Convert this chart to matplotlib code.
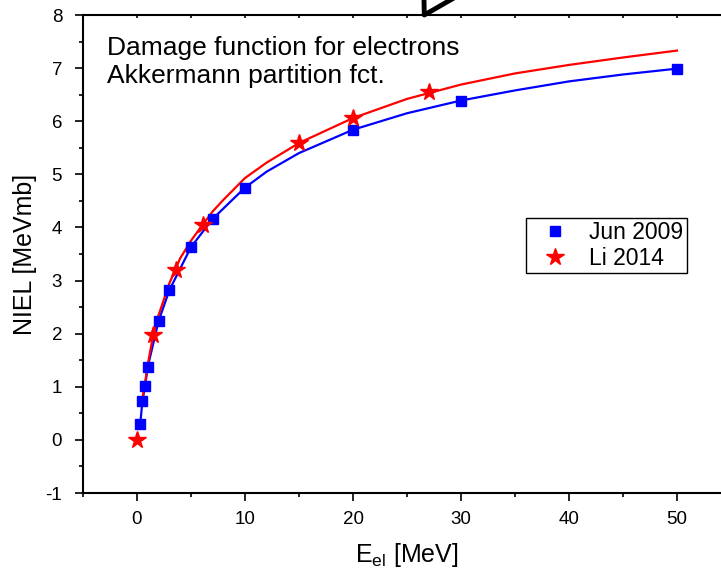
import matplotlib.pyplot as plt
from matplotlib.ticker import MultipleLocator

plt.rcParams['font.family'] = ['Liberation Sans', 'DejaVu Sans']
plt.rcParams['axes.unicode_minus'] = False

# Jun 2009 data points (blue squares)
jun_x = [0.3, 0.5, 0.75, 1, 2, 3, 5, 7, 10, 20, 30, 50]
jun_y = [0.30, 0.73, 1.02, 1.38, 2.24, 2.82, 3.63, 4.16, 4.75, 5.84, 6.39, 6.99]

# Li 2014 data points (red stars)
li_x = [0, 1.5, 3.6, 6.1, 15, 20, 27]
li_y = [0.0, 1.98, 3.2, 4.05, 5.59, 6.06, 6.55]

# blue curve
blue_x = [0.3, 0.5, 0.75, 1, 2, 3, 5, 7, 10, 12, 15, 20, 25, 30, 35, 40, 45, 50]
blue_y = [0.30, 0.73, 1.02, 1.38, 2.24, 2.82, 3.63, 4.16, 4.75, 5.05, 5.40, 5.84, 6.15,
          6.39, 6.58, 6.75, 6.88, 6.99]

# red curve
red_x = [0.45, 0.75, 1, 1.5, 2, 3, 4, 5, 6, 7, 8, 10, 12, 15, 20, 25, 30, 35, 40, 45, 50]
red_y = [0.72, 1.08, 1.42, 1.98, 2.35, 2.95, 3.42, 3.75, 4.03, 4.30, 4.52, 4.93, 5.22,
         5.59, 6.06, 6.42, 6.69, 6.90, 7.06, 7.20, 7.33]

fig = plt.figure(figsize=(7.21, 5.76), dpi=100)
ax = fig.add_axes([83/721, 83/576, 648/721, 478/576])

ax.plot(blue_x, blue_y, color='#0000ff', lw=1.6, zorder=2)
ax.plot(red_x, red_y, color='#ff0000', lw=1.6, zorder=3)
ax.plot(jun_x, jun_y, 's', color='#0000ff', ms=7, ls='none', label='Jun 2009', zorder=4)
ax.plot(li_x, li_y, '*', color='#ff0000', ms=13, ls='none', label='Li 2014', zorder=5)

ax.set_xlim(-5, 55)
ax.set_ylim(-1, 8)
ax.xaxis.set_major_locator(MultipleLocator(10))
ax.xaxis.set_minor_locator(MultipleLocator(5))
ax.yaxis.set_major_locator(MultipleLocator(1))
ax.yaxis.set_minor_locator(MultipleLocator(0.5))

ax.tick_params(axis='both', which='major', direction='out', length=6, width=1.2,
               labelsize=13.5)
ax.tick_params(axis='x', which='major', pad=7)
ax.tick_params(axis='y', which='major', pad=9)
ax.tick_params(axis='both', which='minor', direction='out', length=3, width=1.2)
ax.tick_params(axis='x', which='both', top=True)
for t in ax.xaxis.get_major_ticks() + ax.xaxis.get_minor_ticks():
    t.tick2line.set_marker(3)
    t.tick2line.set_markersize(2)
for s in ax.spines.values():
    s.set_linewidth(1.5)

ax.set_xlabel('E$_{\\mathregular{el}}$ [MeV]', fontsize=18, labelpad=9)
ax.set_ylabel('NIEL [MeVmb]', fontsize=18, labelpad=6)

ax.text(-2.8, 7.6, 'Damage function for electrons\nAkkermann partition fct.',
        fontsize=19, va='top', ha='left', linespacing=1.2)

ax.legend(loc='upper left', bbox_to_anchor=(0.6836, 0.5753), fontsize=16.5,
          frameon=True, fancybox=False, edgecolor='black', framealpha=1,
          borderpad=0.15, handletextpad=0.4, labelspacing=0.1, handlelength=2.2,
          borderaxespad=0)

ax.annotate('', xy=(26.6, 8.0), xytext=(30.5, 9.4), annotation_clip=False,
            arrowprops=dict(arrowstyle='simple,head_width=1.3,head_length=1.1,tail_width=0.45',
                            mutation_scale=22, fc='white', ec='black', lw=3.5,
                            shrinkA=0, shrinkB=0))

fig.savefig('out.png', dpi=100)
